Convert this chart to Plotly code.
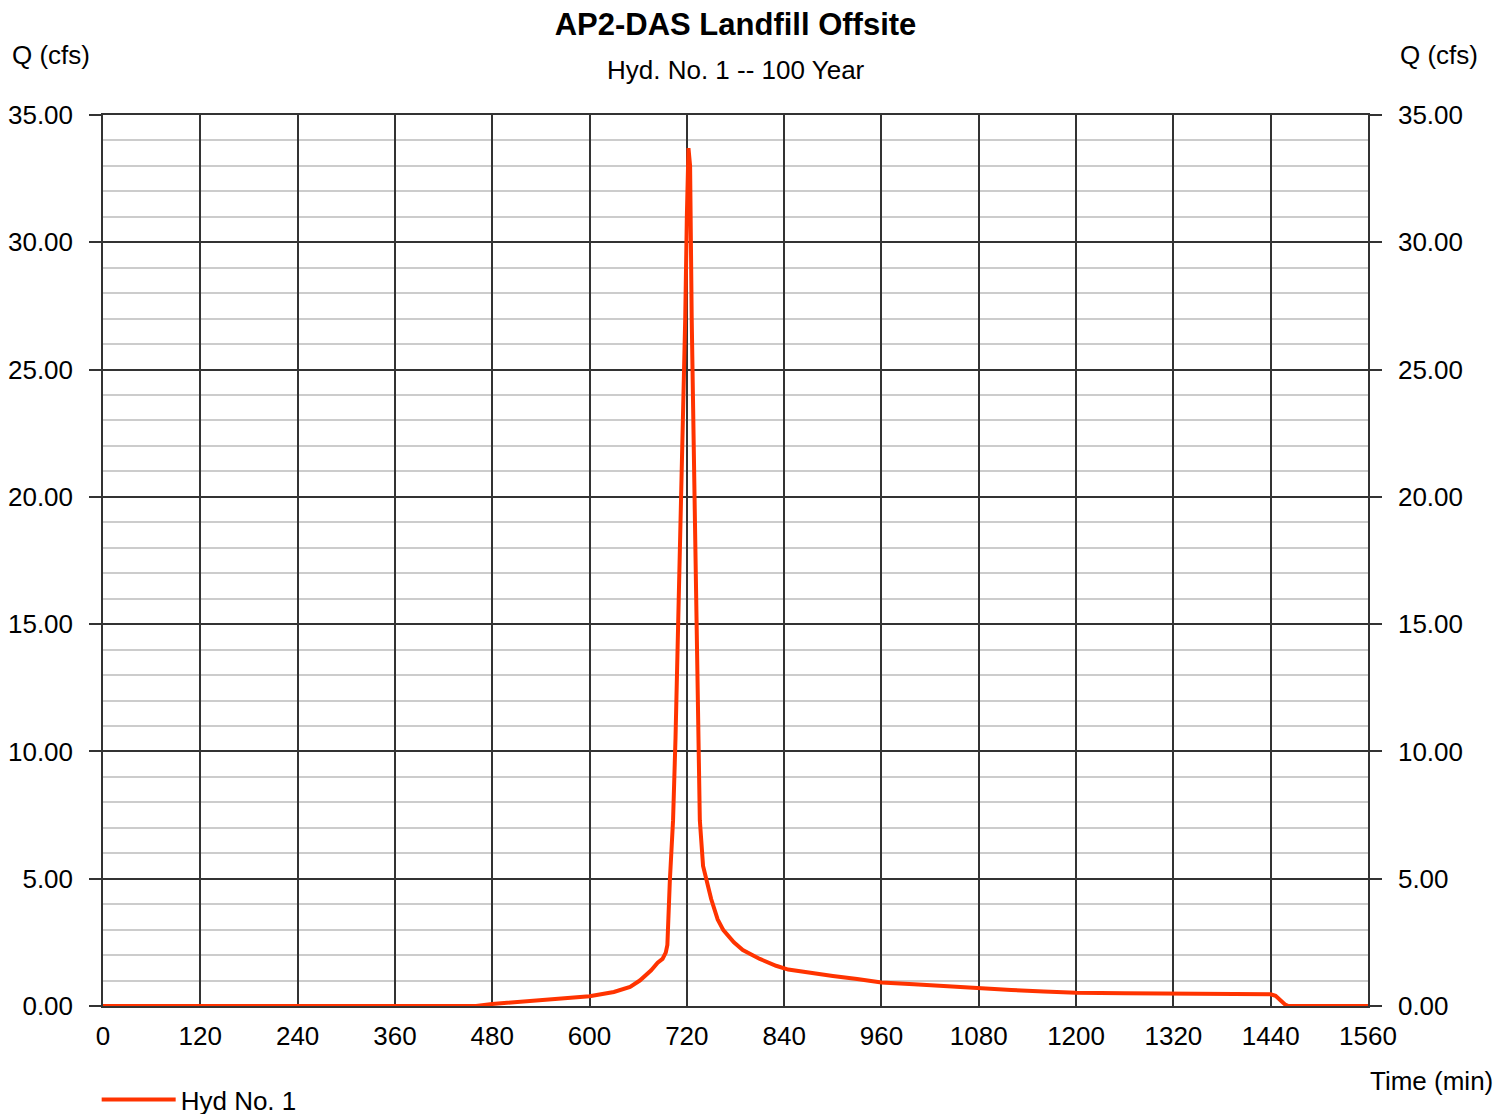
import plotly.graph_objects as go

# Hydrograph (time in min, flow in cfs)
time_min = [0, 120, 240, 360, 460, 480, 510, 540, 570, 600, 630, 650, 662, 676, 684, 690, 694,
            696, 699, 703, 706, 710, 714, 718, 720, 722, 724, 726, 730, 733, 736, 740, 744, 750,
            758, 765, 778, 789, 810, 830, 845, 870, 900, 930, 960, 1000, 1040, 1080, 1120, 1160,
            1200, 1260, 1320, 1380, 1440, 1446, 1452, 1458, 1462, 1500, 1560]
flow_cfs = [0, 0, 0, 0, 0, 0.08, 0.15, 0.24, 0.30, 0.38, 0.55, 0.75, 1.0, 1.4, 1.7, 1.85, 2.1,
            2.4, 4.9, 7.3, 10.5, 15.5, 21.0, 27.0, 31.0, 33.7, 33.0, 27.0, 19.0, 12.0, 7.3, 5.5, 4.95, 4.2,
            3.4, 2.98, 2.5, 2.2, 1.85, 1.58, 1.43, 1.3, 1.18, 1.06, 0.92, 0.85, 0.77, 0.69, 0.63, 0.57,
            0.52, 0.50, 0.48, 0.47, 0.46, 0.40, 0.22, 0.05, 0, 0, 0]

x_ticks = list(range(0, 1561, 120))
y_ticks = [0, 5, 10, 15, 20, 25, 30, 35]
y_tick_text = ["%.2f" % v for v in y_ticks]

title_text = "<b>AP2-DAS Landfill Offsite</b>"
subtitle_text = "Hyd. No. 1 -- 100 Year"
series_name = "Hyd No. 1"

FONT = "Liberation Sans, Arial, sans-serif"
LINE = "#FF3300"
DARK = "#333333"
FS = 26

fig = go.Figure()
fig.add_trace(go.Scatter(x=time_min, y=flow_cfs, mode="lines", name=series_name,
                         line=dict(color=LINE, width=4), showlegend=True))
fig.add_trace(go.Scatter(x=time_min, y=flow_cfs, mode="lines", yaxis="y2",
                         line=dict(color="rgba(0,0,0,0)", width=0), showlegend=False,
                         hoverinfo="skip"))

yaxis_common = dict(
    range=[0, 35], tickmode="array", tickvals=y_ticks, ticktext=y_tick_text,
    ticks="outside", ticklen=12, tickcolor=DARK, tickwidth=1.5,
    ticklabelstandoff=11,
    tickfont=dict(family=FONT, size=FS, color="black"),
    showline=True, linecolor=DARK, linewidth=1.5,
    zeroline=False, fixedrange=True,
)

fig.update_layout(
    width=1493, height=1114,
    margin=dict(l=103, r=125, t=115, b=108, autoexpand=False),
    paper_bgcolor="white", plot_bgcolor="white",
    font=dict(family=FONT, size=FS, color="black"),
    title=dict(text=title_text, x=(103 + 1368) / 2 / 1493, xanchor="center",
               y=1 - 24 / 1114, yanchor="middle",
               font=dict(family=FONT, size=31, color="black")),
    xaxis=dict(range=[0, 1560], tickmode="array", tickvals=x_ticks,
               showgrid=True, gridcolor=DARK, gridwidth=1.5,
               showline=True, linecolor=DARK, linewidth=1.5, mirror=True,
               zeroline=False, ticks="", ticklabelstandoff=6,
               tickfont=dict(family=FONT, size=FS, color="black")),
    yaxis=dict(**yaxis_common, side="left", showgrid=True, gridcolor=DARK, gridwidth=1.5,
               minor=dict(dtick=1, showgrid=True, gridcolor="#cccccc", gridwidth=2)),
    yaxis2=dict(**yaxis_common, side="right", overlaying="y", showgrid=False),
    showlegend=True,
    legend=dict(x=-0.005, xanchor="left", y=(1006 - 1076) / 891, yanchor="top", orientation="h",
                itemwidth=74,
                font=dict(family=FONT, size=FS, color="black"), bgcolor="rgba(0,0,0,0)"),
    annotations=[
        dict(text=subtitle_text, xref="paper", yref="paper", x=0.5, y=(1006 - 70) / 891,
             xanchor="center", yanchor="middle", showarrow=False,
             font=dict(family=FONT, size=FS, color="black")),
        dict(text="Q (cfs)", xref="paper", yref="paper", x=(10 - 103) / 1265, y=(1006 - 55) / 891,
             xanchor="left", yanchor="middle", showarrow=False,
             font=dict(family=FONT, size=FS, color="black")),
        dict(text="Q (cfs)", xref="paper", yref="paper", x=(1398 - 103) / 1265, y=(1006 - 55) / 891,
             xanchor="left", yanchor="middle", showarrow=False,
             font=dict(family=FONT, size=FS, color="black")),
        dict(text="Time (min)", xref="paper", yref="paper", x=(1368 - 103) / 1265, y=(1006 - 1081) / 891,
             xanchor="left", yanchor="middle", showarrow=False,
             font=dict(family=FONT, size=FS, color="black")),
    ],
)

fig.write_html("out.html")
